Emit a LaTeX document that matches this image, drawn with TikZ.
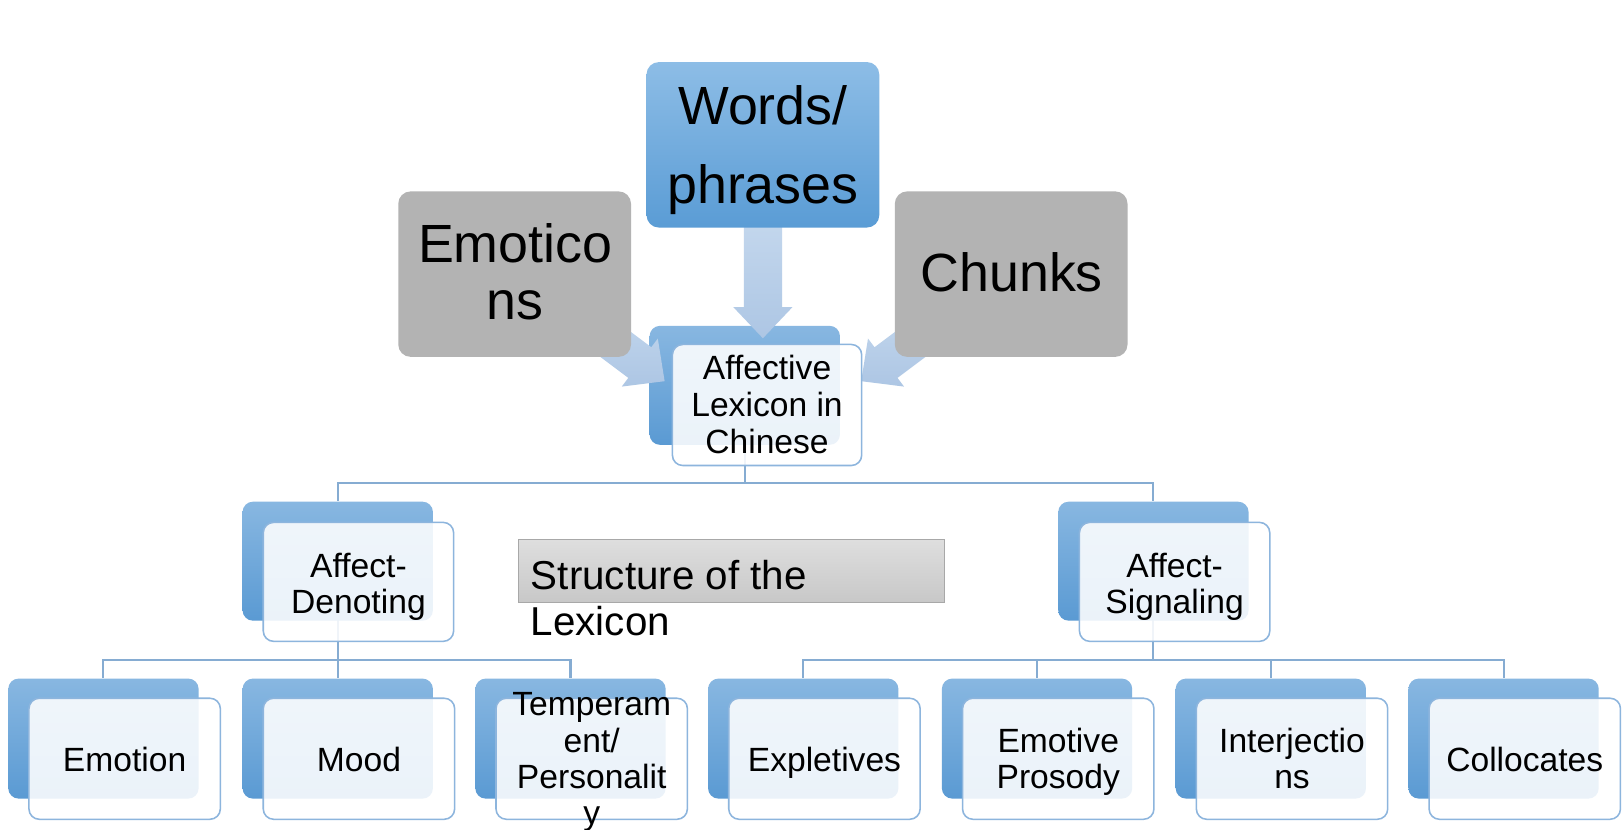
\documentclass[tikz,border=0pt]{standalone}
\usepackage{fontspec}
\setmainfont{Liberation Sans}
\usetikzlibrary{backgrounds}
\definecolor{bktop}{HTML}{88B7E1}
\definecolor{bkbot}{HTML}{5A9AD3}
\definecolor{frline}{HTML}{8DB5DD}
\definecolor{connc}{HTML}{86ACD2}
\definecolor{arrtop}{HTML}{C6D9EE}
\definecolor{arrbot}{HTML}{ADC6E4}
\definecolor{gry}{HTML}{B3B3B3}
\definecolor{wtop}{HTML}{8DBDE6}
\definecolor{wbot}{HTML}{5A9CD5}
\definecolor{stop}{HTML}{DEDEDE}
\definecolor{sbot}{HTML}{C8C8C8}
\definecolor{sline}{HTML}{A8A8A8}
\tikzset{
  backbox/.style={rectangle, rounded corners=10pt, minimum width=184pt, minimum height=116pt, inner sep=0pt, top color=bktop, bottom color=bkbot, draw=none},
  frontbox/.style={rectangle, rounded corners=10pt, minimum width=185pt, minimum height=117pt, inner sep=0pt, fill=white, fill opacity=0.88, draw=frline, draw opacity=1, line width=1.5pt},
  bigbox/.style={rectangle, rounded corners=12pt, minimum width=225pt, minimum height=160pt, inner sep=0pt, draw=none},
  conn/.style={draw=connc, line width=2pt},
  arrowfill/.style={top color=arrtop, bottom color=arrbot, draw=none},
  smalltext/.style={inner sep=0pt, align=center, font=\fontsize{32.5}{35.5}\selectfont},
}
\begin{document}
\begin{tikzpicture}[x=1pt,y=-1pt]
\useasboundingbox (0,0) rectangle (1568,802);

% central back box
\node[backbox, minimum height=115pt] (cb) at (720,372.5) {};

% arrows
\path[arrowfill] (719,200) -- (756,200) -- (756,297) -- (766,297) -- (737.5,327) -- (709,297) -- (719,297) -- cycle;
\path[arrowfill] (543.4,317.3) -- (565.6,287.7) -- (629.6,335.7) -- (635.9,327.3) -- (642.5,368.5) -- (601.1,373.7) -- (607.4,365.3) -- cycle;
\path[arrowfill] (931.6,317.3) -- (909.4,287.7) -- (845.4,335.7) -- (839.1,327.3) -- (832.5,368.5) -- (873.9,373.7) -- (867.6,365.3) -- cycle;

% top boxes
\node[bigbox, top color=wtop, bottom color=wbot] (wp) at (737.5,140) {};
\node[bigbox, fill=gry] (em) at (497.5,265) {};
\node[bigbox, fill=gry] (ch) at (977.5,265) {};

% central front box
\node[frontbox, minimum width=183pt] (cf) at (741.5,391.5) {};

% level 2
\node[backbox, minimum height=115pt] (adb) at (326.5,542.5) {};
\node[frontbox, minimum width=184pt, minimum height=115pt] (adf) at (346.5,562.5) {};
\node[backbox, minimum height=115pt] (asb) at (1115,542.5) {};
\node[frontbox, minimum width=184pt, minimum height=115pt] (asf) at (1135.5,562.5) {};

% level 3
\node[backbox] (e1b) at (100,714) {};
\node[frontbox] (e1f) at (120.5,733.5) {};
\node[backbox] (e2b) at (326.5,714) {};
\node[frontbox] (e2f) at (347,733.5) {};
\node[backbox] (e3b) at (551.5,714) {};
\node[frontbox] (e3f) at (572,733.5) {};
\node[backbox] (s1b) at (776.5,714) {};
\node[frontbox] (s1f) at (797,733.5) {};
\node[backbox] (s2b) at (1002.5,714) {};
\node[frontbox] (s2f) at (1023,733.5) {};
\node[backbox] (s3b) at (1228.5,714) {};
\node[frontbox] (s3f) at (1249,733.5) {};
\node[backbox] (s4b) at (1453.5,714) {};
\node[frontbox] (s4f) at (1474,733.5) {};

% structure label box
\node[rectangle, minimum width=412pt, minimum height=60pt, inner sep=0pt, top color=stop, bottom color=sbot, draw=sline, line width=1pt] (sb) at (707,552) {};

% junctions
\coordinate (tj) at (720,467);
\coordinate (lj) at (326.5,638);
\coordinate (rj) at (1115,638);

% connectors, behind everything
\begin{pgfonlayer}{background}
\fill[white] (0,0) rectangle (1568,802);
\draw[conn] (cb.center) -- (tj);
\draw[conn] (tj) -| (adb.north);
\draw[conn] (tj) -| (asb.north);
\draw[conn] (adb.center) -- (lj);
\draw[conn] (lj) -| (e1b.north);
\draw[conn] (lj) -- (e2b.north);
\draw[conn] (lj) -| (e3b.north);
\draw[conn] (asb.center) -- (rj);
\draw[conn] (rj) -| (s1b.north);
\draw[conn] (rj) -| (s2b.north);
\draw[conn] (rj) -| (s3b.north);
\draw[conn] (rj) -| (s4b.north);
\end{pgfonlayer}

% texts
\node[inner sep=0pt, align=center, font=\fontsize{52}{76.5}\selectfont] (wpt) at (737.5,144.75) {Words/\\phrases};
\node[inner sep=0pt, align=center, font=\fontsize{52}{55}\selectfont] (emt) at (498,263) {Emotico\\ns};
\node[inner sep=0pt, align=center, font=\fontsize{52}{55}\selectfont] (cht) at (978,263) {Chunks};
\node[smalltext] (cft) at (741.5,391.2) {Affective\\Lexicon in\\Chinese};
\node[smalltext] (adt) at (346.5,567.3) {Affect-\\Denoting};
\node[smalltext] (ast) at (1135.5,567.3) {Affect-\\Signaling};
\node[smalltext] (e1t) at (120.5,734.4) {Emotion};
\node[smalltext] (e2t) at (347,734.4) {Mood};
\node[smalltext, font=\fontsize{32.5}{35}\selectfont] (e3t) at (572,736.75) {Temperam\\ent/\\Personalit\\y};
\node[smalltext] (s1t) at (797,737.5) {Expletives};
\node[smalltext, font=\fontsize{32.5}{35}\selectfont] (s2t) at (1023,736.75) {Emotive\\Prosody};
\node[smalltext, font=\fontsize{32.5}{35}\selectfont] (s3t) at (1249,733.2) {Interjectio\\ns};
\node[smalltext] (s4t) at (1474,734) {Collocates};
\node[inner sep=0pt, align=left, anchor=north west, font=\fontsize{39}{45}\selectfont] (sbt) at (513,541) {Structure of the\\Lexicon};
\end{tikzpicture}
\end{document}
